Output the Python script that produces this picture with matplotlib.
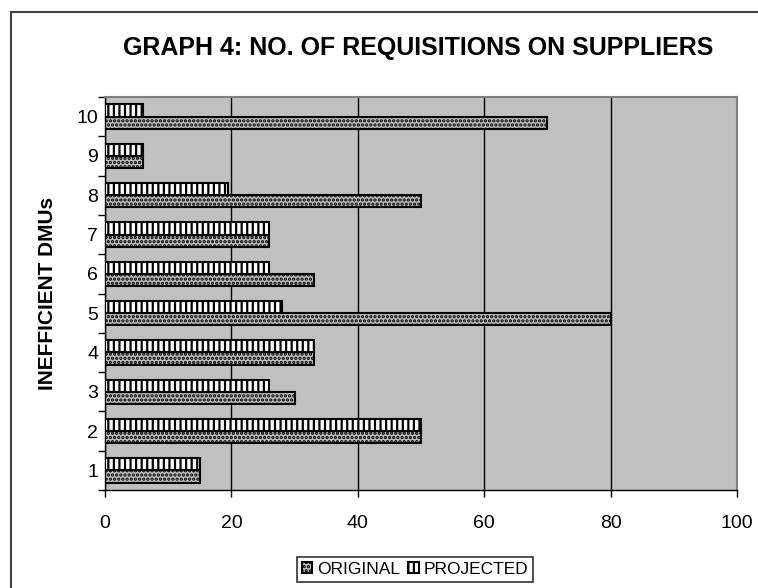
import matplotlib
matplotlib.use("Agg")
import matplotlib.pyplot as plt
import matplotlib.patches as mpatches
from matplotlib.ticker import FixedLocator
import numpy as np

plt.rcParams['font.family'] = ['Liberation Sans', 'DejaVu Sans']
plt.rcParams['hatch.linewidth'] = 1.6

dmus = ['1', '2', '3', '4', '5', '6', '7', '8', '9', '10']
original = [15, 50, 30, 33, 80, 33, 26, 50, 6, 70]
projected = [15, 50, 26, 33, 28, 26, 26, 19.5, 6, 6]
title = 'GRAPH 4: NO. OF REQUISITIONS ON SUPPLIERS'
ylabel = 'INEFFICIENT DMUs'
xticks = [0, 20, 40, 60, 80, 100]

fig = plt.figure(figsize=(7.58, 5.88), dpi=100)
ax = fig.add_axes([105/758, 1-490/588, (737-105)/758, (490-97)/588])
ax.set_facecolor('#c0c0c0')

y = np.arange(len(dmus))
h = 0.31
ax.barh(y - h/2, original, height=h, facecolor='#bcbcbc', edgecolor='black',
        hatch='....', linewidth=1.5, zorder=3, label='ORIGINAL')
ax.barh(y + h/2, projected, height=h, facecolor='white', edgecolor='black',
        hatch='|||', linewidth=1.5, zorder=3, label='PROJECTED')

ax.set_xlim(0, 100)
ax.set_ylim(-0.5, len(dmus) - 0.5)
ax.set_xticks(xticks)
ax.set_xticklabels([str(v) for v in xticks], fontsize=14)
ax.set_yticks(y)
ax.set_yticklabels(dmus, fontsize=14)
ax.yaxis.set_minor_locator(FixedLocator(np.arange(-0.5, len(dmus), 1)))
ax.tick_params(axis='y', which='major', length=0, pad=5)
ax.tick_params(axis='y', which='minor', length=5, width=1, direction='out')
ax.tick_params(axis='x', length=5, width=1, direction='out', pad=13)
ax.grid(axis='x', color='black', linewidth=1, zorder=1)
ax.set_axisbelow(True)
for s in ['top', 'right']:
    ax.spines[s].set_color('#808080')
    ax.spines[s].set_linewidth(1.5)
for s in ['left', 'bottom']:
    ax.spines[s].set_color('black')
    ax.spines[s].set_linewidth(1)

ax.set_ylabel(ylabel, fontsize=15, fontweight='bold', labelpad=14)
fig.text(418/758, 1 - 48/588, title, ha='center', va='center',
         fontsize=18, fontweight='bold')

# outer chart border
border = mpatches.Rectangle((11/758, -0.1), 1.2, 1 - 12/588 + 0.1, transform=fig.transFigure,
                            fill=False, edgecolor='#404040', linewidth=1.5)
fig.patches.append(border)

handles, labels = ax.get_legend_handles_labels()
leg = fig.legend(handles, labels, loc='upper center', bbox_to_anchor=(415/758, 1 - 548/588),
                 ncol=2, fontsize=12.5, frameon=True, fancybox=False, edgecolor='black',
                 handlelength=0.6, handleheight=0.6, handletextpad=0.25, columnspacing=0.5,
                 borderpad=0.3)
leg.get_frame().set_linewidth(1.2)

fig.savefig('out.png', dpi=100)
